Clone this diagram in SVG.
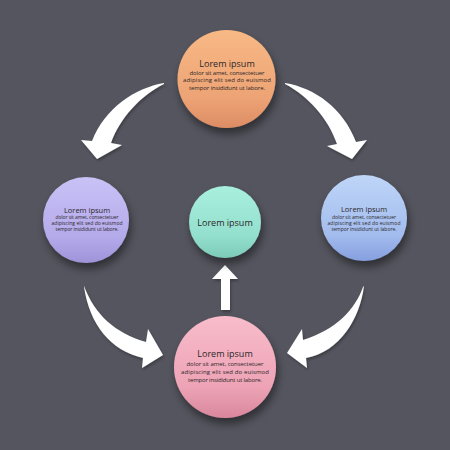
<svg xmlns="http://www.w3.org/2000/svg" width="450" height="450" viewBox="0 0 450 450">
<defs>
<linearGradient id="gTop" x1="0" y1="0" x2="0" y2="1"><stop offset="0" stop-color="#f8b985"/><stop offset="0.7" stop-color="#eda375"/><stop offset="1" stop-color="#dc8c64"/></linearGradient>
<linearGradient id="gLeft" x1="0" y1="0" x2="0" y2="1"><stop offset="0" stop-color="#c9c2f6"/><stop offset="0.7" stop-color="#b4aaea"/><stop offset="1" stop-color="#9f93d8"/></linearGradient>
<linearGradient id="gRight" x1="0" y1="0" x2="0" y2="1"><stop offset="0" stop-color="#bfd6f8"/><stop offset="0.7" stop-color="#a2bcee"/><stop offset="1" stop-color="#869fdf"/></linearGradient>
<linearGradient id="gBottom" x1="0" y1="0" x2="0" y2="1"><stop offset="0" stop-color="#f8bccb"/><stop offset="0.7" stop-color="#eda3b5"/><stop offset="1" stop-color="#d9879c"/></linearGradient>
<linearGradient id="gCenter" x1="0" y1="0" x2="0" y2="1"><stop offset="0" stop-color="#a9efde"/><stop offset="0.7" stop-color="#93dfcd"/><stop offset="1" stop-color="#7ccab8"/></linearGradient>
<filter id="sh" x="-30%" y="-30%" width="160%" height="170%"><feDropShadow dx="2" dy="6" stdDeviation="4" flood-color="#000" flood-opacity="0.45"/></filter>
<filter id="ash" x="-20%" y="-20%" width="140%" height="140%"><feDropShadow dx="1" dy="2" stdDeviation="1.5" flood-color="#000" flood-opacity="0.3"/></filter>
</defs>
<style>
.t{font-family:"Open Sans","Liberation Sans",sans-serif;fill:#2c2728;text-anchor:middle}
.h{font-size:9px}
.hs{font-size:7.5px}
.b{font-size:6px}
.bs{font-size:5px}
.arrow{fill:#ffffff;filter:url(#ash)}
</style>
<rect width="450" height="450" fill="#54555e"/>
<g id="connectors">
<path class="arrow" d="M164 83 C135 88 105 108 92 141 L81 140 L97 159 L122 145 L111 143 C120 118 140 96 164 84 Z"/>
<path class="arrow" d="M285 83 C315 88 343 108 356 142 L367 140 L352 159 L327 146 L337 144 C328 118 308 96 285 84 Z"/>
<path class="arrow" d="M84 286 C95 315 115 333 146 342 L148 329 L163 355 L142 368 L143 358 C110 350 90 325 84 287 Z"/>
<path class="arrow" d="M364 286 C360 318 340 352 306 358 L307 368 L287 353 L302 329 L303 340 C335 330 355 310 363 287 Z"/>
<path class="arrow" d="M225 265 L238 279 L230 279 L230 310 L221 310 L221 279 L212 279 Z"/>
</g>
<g id="node-top">
<circle cx="226.5" cy="79" r="49" fill="url(#gTop)" filter="url(#sh)"/>
<text class="t h" x="227" y="66.5">Lorem ipsum</text>
<text class="t b" x="227" y="74.8" textLength="75" lengthAdjust="spacing">dolor sit amet, consectetuer</text>
<text class="t b" x="227" y="82.4" textLength="88" lengthAdjust="spacing">adipiscing elit sed do euismod</text>
<text class="t b" x="227" y="89.8" textLength="76" lengthAdjust="spacing">tempor insididunt ut labore.</text>
</g>
<g id="node-left">
<circle cx="86" cy="220" r="43" fill="url(#gLeft)" filter="url(#sh)"/>
<text class="t hs" x="87" y="212.5">Lorem ipsum</text>
<text class="t bs" x="87" y="219.2" textLength="63" lengthAdjust="spacing">dolor sit amet, consectetuer</text>
<text class="t bs" x="87" y="225.2" textLength="71" lengthAdjust="spacing">adipiscing elit sed do euismod</text>
<text class="t bs" x="87" y="231.2" textLength="63" lengthAdjust="spacing">tempor insididunt ut labore.</text>
</g>
<g id="node-center">
<circle cx="225" cy="222" r="36" fill="url(#gCenter)" filter="url(#sh)"/>
<text class="t h" x="225" y="225.8">Lorem ipsum</text>
</g>
<g id="node-right">
<circle cx="364" cy="218" r="43" fill="url(#gRight)" filter="url(#sh)"/>
<text class="t hs" x="364" y="211.5">Lorem ipsum</text>
<text class="t bs" x="364" y="218.5" textLength="64" lengthAdjust="spacing">dolor sit amet, consectetuer</text>
<text class="t bs" x="364" y="224.5" textLength="73" lengthAdjust="spacing">adipiscing elit sed do euismod</text>
<text class="t bs" x="364" y="230.5" textLength="65" lengthAdjust="spacing">tempor insididunt ut labore.</text>
</g>
<g id="node-bottom">
<circle cx="225" cy="367" r="51" fill="url(#gBottom)" filter="url(#sh)"/>
<text class="t h" x="225" y="357">Lorem ipsum</text>
<text class="t b" x="225" y="366" textLength="77" lengthAdjust="spacing">dolor sit amet, consectetuer</text>
<text class="t b" x="225" y="374" textLength="88" lengthAdjust="spacing">adipiscing elit sed do euismod</text>
<text class="t b" x="225" y="382" textLength="74" lengthAdjust="spacing">tempor insididunt ut labore.</text>
</g>
</svg>
